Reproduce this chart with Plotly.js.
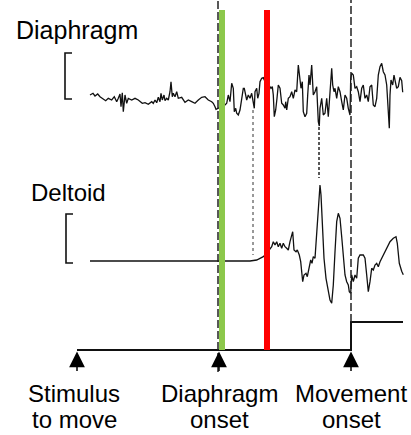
<!DOCTYPE html>
<html><head><meta charset="utf-8">
<script src="https://cdn.plot.ly/plotly-3.0.1.min.js"></script>
<style>html,body{margin:0;padding:0;background:#fff}#c{width:411px;height:435px}</style>
</head><body><div id="c"></div>
<script>
// time in arbitrary units (stimulus = 0)
const diaT = [13,16,18,20.7,23,26.3,28.7,31.3,34.7,37.3,39.7,41.3,43,44,45.3,46.3,48,49.7,51.3,54.7,58,61.3,63,65.3,68,71.3,74.7,76.3,78,79.7,81.3,83,84,85.3,87,88,89.7,91.3,93,94,95.3,96.3,98,99.7,101.3,104.7,108,111.3,114.7,118,121.3,124.7,128,131.3,134.7,136.3,138,139,
148,149.7,151.3,153,154.7,156.3,157.3,158.7,159.7,161.3,163,164.7,166.3,167.3,168.7,169.7,171.3,173,174.7,176.3,177.3,178,179.7,180.7,182,183,184.7,186.3,187.3,189.7,194,195.3,196.3,197.3,198.7,200,201.3,203,204.7,206.3,208,208.7,209.7,211.3,213,214.7,216.3,218,219.7,221.3,223,224,225.3,226.3,228,229.7,230.7,232,233,234.7,236.3,238,
239.7,240.3,241.3,242.3,243,244.7,246.3,248,249.7,251.3,253,254.7,255.7,257,258,259.7,261.3,263,264.7,266.3,268,269.7,271.3,273,273.7,274.7,276.3,278,279.7,281.3,283,284.7,286.3,288,289.7,291.3,293,294.7,296.3,298,299.7,301.3,303,304.7,306.3,308,309.7,311.3,312.3,313,314,315.7,317,318.3,319.7,321.3,323,324.7,325.7];
const diaV = [3,4.7,2,4,1.3,-0.7,-2.7,-0.3,-2,1.3,-3.7,-0.3,4,-8.7,5.3,-13.7,3,-5.3,-0.3,-2,-0.3,-2,-3.7,-5.3,-4.7,-6.3,-3.7,-5.3,-2,-4.7,0.7,-3.7,4.7,-2,3,-2.7,-0.3,-2,6.3,16.3,1.3,4.7,1.3,6.3,-0.3,0.7,-4.3,-2,-3.7,-5.3,-2,0.7,1.3,-2,-3.7,-5.3,-8.7,-11.3,
-7,-5.3,3,-3.7,14.7,9.7,-13.7,-10.3,-15.3,-17,-12,-0.3,9.7,9.7,3,-2,3,-0.3,4.7,-3.7,-10.3,6.3,9.7,-0.3,4.7,16.3,19.7,20.3,18,16.3,9.7,11.3,3,-18.7,-12,-0.3,13,9.7,-5.3,-7,-10.3,-3.7,-12,-0.3,1.3,6.3,-0.3,8,6.3,33,19.7,9.7,16.3,-13.7,-18.7,-15.3,3,23,13,33,3,6.3,
11.3,-7,-23.7,-28,-10.3,-0.3,-17,-15.3,-0.3,-18.7,9.7,29.7,13,6.3,9.7,-0.3,11.3,6.3,-3.7,-12,3,-0.3,-10.3,-17,19.7,24.7,23,9.7,11.3,6.3,-3.7,9.7,13,-0.3,3,-3.7,11.3,13,-7,-8.7,-0.3,23,31.3,34.7,26.3,23,13,-10.3,-30.3,3,18,13,23,16.3,9.7,11.3,20.7,17.3,5.7];

const delT = [13,60,100,140,173,179.7,184.7,186.3,189.7,194.7,196.3,198,199.7,201.3,203,204.7,206.3,208,209.7,211.3,213,214.7,215.7,217,219,220.3,222.3,223.7,225.7,227,229,230.3,232.3,233.7,235,236.3,238,239.7,241.3,242.3,243,244,245.7,247,249,251.3,253,254.7,256.3,258,259.7,261.3,263,264.7,266.3,268,269.7,271.3,272.3,273.7,274.7,276.3,278,279.7,281.3,283,286.3,288,289.7,291.3,293,294.7,296.3,298,299.7,301.3,303,306.3,309.7,313,316.3,319,320.3,322.3,324.7,326.3];
const delV = [0,0,-0.3,0,0,1,3.3,4.3,7.7,14.3,19.3,16,19.3,14.3,17.7,12.7,17.7,14.3,12.7,11,19.3,24.3,29.3,11,9.3,11,6,-0.7,-20.7,-14,-12.3,-15.7,-4,1,-2.3,4.3,2.7,29.3,49.3,69.3,76,66,19.3,2.7,-17.3,-30.7,-39,-42.3,-24,9.3,39.3,47.7,42.7,24.3,2.7,-14,-20.7,-24,-30.7,-32.3,-14,-20.7,-14,-17.3,2.7,6,6,2.7,-14,-30.7,-20.7,-7.3,-9,-4,-2.3,-5.7,-0.7,6,12.7,19.3,22.7,24.3,17.7,-2.3,-10.3,-13.7];

const moveT = [0,274,274,326];
const moveV = [0,0,28,28];

const eventT = [0,142,274];
const eventLine1 = ["Stimulus","Diaphragm","Movement"];
const eventLine2 = ["to move","onset","onset"];
const labelT = [-3,142,274];

const traces = [
  {x:diaT,y:diaV,yaxis:'y',type:'scatter',mode:'lines',line:{color:'#111',width:1.3},hoverinfo:'skip'},
  {x:delT,y:delV,yaxis:'y2',type:'scatter',mode:'lines',line:{color:'#111',width:1.3},hoverinfo:'skip'},
  {x:moveT,y:moveV,yaxis:'y3',type:'scatter',mode:'lines',line:{color:'#111',width:2},hoverinfo:'skip'}
];

const F = {family:'"Liberation Sans", Arial, Helvetica, sans-serif', size:24, color:'#000'};
const ann = [
  {x:-63,xref:'x',y:0.93,yref:'paper',text:'Diaphragm',showarrow:false,xanchor:'left',yanchor:'middle',font:Object.assign({},F,{size:25})},
  {x:-48,xref:'x',y:0.5586,yref:'paper',text:'Deltoid',showarrow:false,xanchor:'left',yanchor:'middle',font:F}
];
eventT.forEach((t,i)=>{
  ann.push({x:t,xref:'x',y:-1.5,yref:'y3',ax:0,ay:21,showarrow:true,arrowhead:2,arrowsize:2.1,arrowwidth:1.5,arrowcolor:'#000',text:'',standoff:0});
  ann.push({x:labelT[i],xref:'x',y:1-393/435,yref:'paper',text:eventLine1[i],showarrow:false,xanchor:'center',yanchor:'middle',font:F});
  ann.push({x:labelT[i],xref:'x',y:1-419.5/435,yref:'paper',text:eventLine2[i],showarrow:false,xanchor:'center',yanchor:'middle',font:F});
});

const shapes = [
  // scale brackets
  {type:'path',xref:'x',yref:'y',path:'M -5,45 L -12,45 L -12,-1 L -5,-1',line:{color:'#111',width:1.6}},
  {type:'path',xref:'x',yref:'y2',path:'M -4,47 L -11,47 L -11,-2 L -4,-2',line:{color:'#111',width:1.6}},
  // dashed onset lines
  {type:'line',xref:'x',yref:'y3',x0:141,x1:141,y0:-22,y1:350,line:{color:'#222',width:1.5,dash:'8px,3px'}},
  {type:'line',xref:'x',yref:'y3',x0:274,x1:274,y0:28,y1:350,line:{color:'#222',width:1.5,dash:'8px,3px'}},
  // dotted connectors
  {type:'line',xref:'x',yref:'y2',x0:176,x1:176,y0:151,y1:6,line:{color:'#333',width:1,dash:'dot'}},
  {type:'line',xref:'x',yref:'y2',x0:242,x1:242,y0:134,y1:83,line:{color:'#222',width:1.5,dash:'3px,2px'}},
  // coloured bars
  {type:'rect',xref:'x',yref:'y3',x0:142,x1:148,y0:0,y1:340,fillcolor:'#8cc84b',line:{width:0},layer:'above'},
  {type:'rect',xref:'x',yref:'y3',x0:187,x1:193,y0:0,y1:340,fillcolor:'#ff0000',line:{width:0},layer:'above'}
];

const layout = {
  width:411,height:435,margin:{l:0,r:0,t:0,b:0},paper_bgcolor:'#fff',plot_bgcolor:'#fff',showlegend:false,
  xaxis:{range:[-77,334],visible:false,fixedrange:true},
  yaxis:{range:[-337,98],visible:false,fixedrange:true},
  yaxis2:{range:[-174,261],visible:false,overlaying:'y',fixedrange:true},
  yaxis3:{range:[-85,350],visible:false,overlaying:'y',fixedrange:true},
  annotations:ann,shapes:shapes
};
Plotly.newPlot('c',traces,layout,{staticPlot:true,displayModeBar:false});
</script></body></html>
